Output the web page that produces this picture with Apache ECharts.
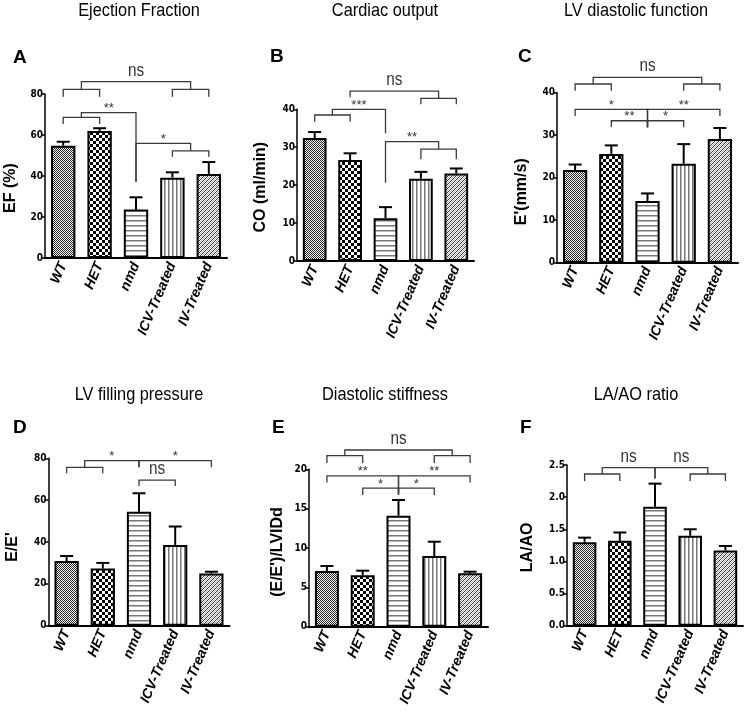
<!DOCTYPE html>
<html><head><meta charset="utf-8">
<script src="https://cdn.jsdelivr.net/npm/echarts@6/dist/echarts.min.js"></script>
<style>html,body{margin:0;padding:0;background:#fff}#c{width:747px;height:714px}</style>
</head><body><div id="c"></div>
<script>
// ---------- data ----------
const categories = ['WT', 'HET', 'nmd', 'ICV-Treated', 'IV-Treated'];
const panelTitles = ['Ejection Fraction', 'Cardiac output', 'LV diastolic function', 'LV filling pressure', 'Diastolic stiffness', 'LA/AO ratio'];
const panelLetters = ['A', 'B', 'C', 'D', 'E', 'F'];
const yNames = ['EF (%)', 'CO (ml/min)', "E'(mm/s)", "E/E'", "(E/E')/LVIDd", 'LA/AO'];
const yMaxes = [80, 40, 40, 80, 20, 2.5];
const yIntervals = [20, 10, 10, 20, 5, 0.5];

const efMean = [54.8, 62.0, 23.7, 39.2, 41.0];
const efErr  = [1.9, 1.3, 5.9, 2.6, 5.8];
const coMean = [32.4, 26.6, 11.3, 21.7, 23.1];
const coErr  = [1.6, 1.8, 2.9, 1.8, 1.3];
const ePrimeMean = [21.8, 25.6, 14.5, 23.3, 29.1];
const ePrimeErr  = [1.3, 2.0, 1.8, 4.6, 2.6];
const eeMean = [30.9, 27.3, 54.5, 38.6, 25.0];
const eeErr  = [2.4, 2.7, 8.8, 8.8, 0.8];
const stiffMean = [7.08, 6.53, 14.1, 8.98, 6.78];
const stiffErr  = [0.63, 0.59, 2.0, 1.82, 0.21];
const laaoMean = [1.30, 1.32, 1.85, 1.40, 1.17];
const laaoErr  = [0.07, 0.13, 0.36, 0.10, 0.07];

// significance brackets: [xLeft, xRight, yTop, dropLeft, dropRight, label] (category index, data units)
const bracketsA = [[0,1,82.3,3.6,3.6,''],[3,4,82.3,3.6,3.6,''],[0.5,3.5,86,3.7,3.7,'ns'],
  [0,1,68.6,3.2,3.2,''],[0.5,2,70.9,2.3,33.7,'**'],[3,4,52.3,2.9,2.9,''],[2,3.5,55.9,18.7,3.6,'*']];
const bracketsB = [[0,1,38.5,1.8,1.8,''],[0.5,2,40.0,1.5,6.3,'***'],[3,4,42.9,1.6,1.6,''],
  [1,3.5,44.8,1.6,1.9,'ns'],[3,4,29.5,2.7,2.7,''],[2,3.5,31.5,10.9,2.0,'**']];
const bracketsC = [[0,1,42.05,1.6,1.6,''],[3,4,42.05,1.6,1.6,''],[0.5,3.5,43.6,1.55,1.55,'ns'],
  [0,2,36.1,1.6,4.2,'*'],[2,4,36.1,4.2,1.6,'**'],[1,2,33.4,1.5,1.5,'**'],[2,3,33.4,1.5,1.5,'*']];
const bracketsD = [[0,1,75.7,2.9,2.9,''],[0.5,2,78.9,3.2,3.2,'*'],[2,4,78.9,3.2,3.2,'*'],[2,3,69.6,2.8,2.8,'ns']];
const bracketsE = [[0,1,21.75,0.95,0.95,''],[3,4,21.75,0.95,0.95,''],[0.5,3.5,22.45,0.7,0.7,'ns'],
  [0,2,19.16,0.85,2.2,'**'],[2,4,19.16,2.2,0.85,'**'],[1,2,17.6,0.85,0.85,'*'],[2,3,17.6,0.85,0.85,'*']];
const bracketsF = [[0,1,2.36,0.11,0.11,''],[0.5,2,2.46,0.10,0.17,'ns'],[3,4,2.36,0.11,0.11,''],[2,3.5,2.46,0.17,0.10,'ns']];

const means = [efMean, coMean, ePrimeMean, eeMean, stiffMean, laaoMean];
const errs = [efErr, coErr, ePrimeErr, eeErr, stiffErr, laaoErr];
const brackets = [bracketsA, bracketsB, bracketsC, bracketsD, bracketsE, bracketsF];

// ---------- layout / style ----------
const grids = [
  {left: 45, top: 94, width: 182, height: 164},
  {left: 297, top: 109.3, width: 177, height: 151.7},
  {left: 557, top: 92.7, width: 181, height: 170},
  {left: 48.5, top: 458.3, width: 181, height: 167.4},
  {left: 309, top: 469.3, width: 179, height: 157.4},
  {left: 567, top: 465, width: 176, height: 160.7}
];
const nameGaps = [26, 28, 27, 28, 23, 31];
const nameShift = [12, 2, 14, 5, 4, 2];
const titlePos = [[139, 11], [385, 11], [636, 11], [139, 395], [385, 395], [636, 395]];
const letterPos = [[13, 58], [270, 57], [518, 57], [13, 428], [272, 428], [520, 428]];

const CONDENSED = "'DejaVu Sans Condensed', 'Liberation Sans Narrow', sans-serif";
const SANS = "'Liberation Sans', Arial, sans-serif";

function makePattern(kind) {
  const c = document.createElement('canvas');
  const sizes = {x: [2, 2], c: [6, 6], h: [4, 5], v: [4, 4], d: [4, 4]};
  const w = sizes[kind][0], h = sizes[kind][1];
  c.width = w; c.height = h;
  const g = c.getContext('2d');
  g.fillStyle = '#fff'; g.fillRect(0, 0, w, h);
  if (kind === 'x') {
    g.fillStyle = '#222';
    g.fillRect(0, 0, 1, 1); g.fillRect(1, 1, 1, 1);
  } else if (kind === 'c') {
    g.fillStyle = '#000';
    g.fillRect(0, 0, 3, 3); g.fillRect(3, 3, 3, 3);
  } else if (kind === 'h') {
    g.fillStyle = '#777'; g.fillRect(0, 0, w, 1);
    g.fillStyle = '#bbb'; g.fillRect(0, 1, w, 1);
  } else if (kind === 'v') {
    g.fillStyle = '#777'; g.fillRect(0, 0, 1, h);
    g.fillStyle = '#bbb'; g.fillRect(1, 0, 1, h);
  } else if (kind === 'd') {
    g.fillStyle = '#333';
    for (let i = 0; i < 4; i++) g.fillRect(3 - i, i, 1, 1);
    g.fillStyle = '#aaa';
    for (let i = 0; i < 4; i++) g.fillRect((5 - i) % 4, i, 1, 1);
  }
  return {image: c, repeat: 'repeat'};
}
const patterns = ['x', 'c', 'h', 'v', 'd'].map(makePattern);

function xy(api, x, y) {
  const f = Math.floor(x), c = Math.ceil(x);
  const a = api.coord([f, y]), b = api.coord([c, y]);
  return [a[0] + (b[0] - a[0]) * (x - f), a[1]];
}

const option = {
  animation: false,
  backgroundColor: '#fff',
  grid: grids.map(g => Object.assign({containLabel: false}, g)),
  xAxis: grids.map((g, k) => ({
    gridIndex: k, type: 'category', data: categories,
    axisLine: {lineStyle: {color: '#000', width: 2}},
    axisTick: {alignWithLabel: true, length: 5, lineStyle: {color: '#000', width: 1.5}},
    axisLabel: {interval: 0, rotate: 67, margin: 5, color: '#000', fontFamily: SANS,
      fontWeight: 'bold', fontStyle: 'italic', fontSize: 14}
  })),
  yAxis: grids.map((g, k) => ({
    gridIndex: k, type: 'value', min: 0, max: yMaxes[k], interval: yIntervals[k],
    name: yNames[k], nameLocation: 'middle', nameGap: nameGaps[k],
    nameTextStyle: {fontFamily: SANS, fontWeight: 'bold', fontSize: 16, color: '#000',
      padding: [0, nameShift[k] * 2, 0, 0]},
    axisLine: {show: true, lineStyle: {color: '#000', width: 1.5}},
    axisTick: {show: true, length: 4, lineStyle: {color: '#000', width: 1.5}},
    axisLabel: {margin: 2, color: '#000', fontFamily: CONDENSED, fontWeight: 'bold', fontSize: 10,
      formatter: v => (yIntervals[k] < 1 ? v.toFixed(1) : String(v))},
    splitLine: {show: false}
  })),
  graphic: [].concat(
    panelTitles.map((t, k) => ({type: 'text', x: titlePos[k][0], y: titlePos[k][1], scaleX: 0.86,
      style: {text: t, align: 'center', verticalAlign: 'middle', fill: '#000', font: '19px ' + SANS}})),
    panelLetters.map((t, k) => ({type: 'text', x: letterPos[k][0], y: letterPos[k][1],
      style: {text: t, align: 'left', verticalAlign: 'middle', fill: '#000', font: 'bold 19px ' + SANS}}))
  ),
  series: []
};

for (let k = 0; k < 6; k++) {
  option.series.push({
    type: 'bar', xAxisIndex: k, yAxisIndex: k, barWidth: '67%',
    data: means[k].map((m, i) => ({value: m, itemStyle: {color: patterns[i], borderColor: '#000', borderWidth: 2}})),
    z: 2
  });
  option.series.push({
    type: 'custom', xAxisIndex: k, yAxisIndex: k, z: 3, clip: false,
    data: means[k].map((m, i) => [i, m, errs[k][i]]),
    encode: {x: 0, y: 1},
    renderItem: function (params, api) {
      const i = api.value(0), m = api.value(1), e = api.value(2);
      const p0 = api.coord([i, m]), p1 = api.coord([i, m + e]);
      const hw = 6.5;
      return {type: 'group', children: [
        {type: 'line', shape: {x1: p0[0], y1: p0[1], x2: p1[0], y2: p1[1]}, style: {stroke: '#000', lineWidth: 2}},
        {type: 'line', shape: {x1: p1[0] - hw, y1: p1[1], x2: p1[0] + hw, y2: p1[1]}, style: {stroke: '#000', lineWidth: 2}}
      ]};
    }
  });
  const list = brackets[k];
  option.series.push({
    type: 'custom', xAxisIndex: k, yAxisIndex: k, z: 4, clip: false,
    data: list.map(b => [0, b[2]]),
    encode: {x: 0, y: 1},
    renderItem: function (params, api) {
      const b = list[params.dataIndex];
      const L = xy(api, b[0], b[2]), R = xy(api, b[1], b[2]);
      const Ld = xy(api, b[0], b[2] - b[3]), Rd = xy(api, b[1], b[2] - b[4]);
      const children = [{type: 'polyline', shape: {points: [Ld, L, R, Rd]},
        style: {stroke: '#3a3a3a', lineWidth: 1.3, fill: null}}];
      if (b[5]) {
        const isNs = b[5] === 'ns';
        children.push({type: 'text', x: (L[0] + R[0]) / 2, y: L[1] - (isNs ? 11 : 4), scaleX: isNs ? 0.85 : 1,
          style: {text: b[5], align: 'center', verticalAlign: 'middle', fill: '#333',
            font: (isNs ? '18px ' : '13px ') + SANS}});
      }
      return {type: 'group', children: children};
    }
  });
}

const chart = echarts.init(document.getElementById('c'), null, {renderer: 'canvas'});
chart.setOption(option);
</script>
</body></html>
